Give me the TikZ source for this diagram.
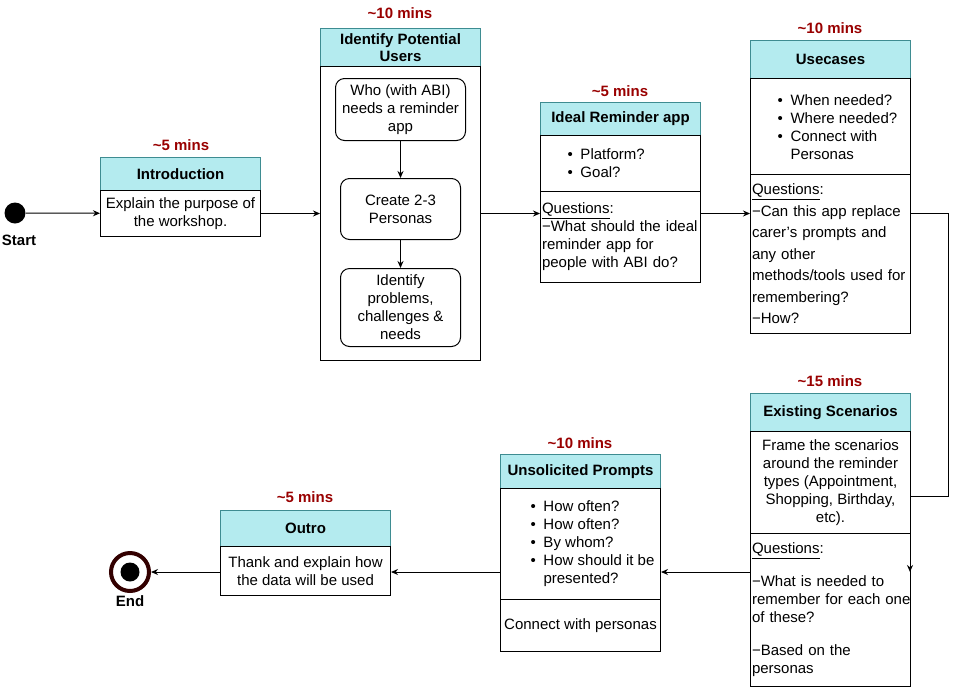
\documentclass[tikz,border=0pt]{standalone}
\usepackage{fontspec}
\setmainfont{Liberation Sans}
\usetikzlibrary{arrows.meta}
\definecolor{headfill}{HTML}{B4EBEF}
\definecolor{headline}{HTML}{3E8C91}
\definecolor{minsred}{HTML}{990000}
\definecolor{ringbrown}{HTML}{330000}
\newcommand{\itemdot}{\makebox[13pt][l]{\textbullet}}
\newcommand{\itemgap}{\hspace*{13pt}}
\begin{document}
\begin{tikzpicture}[x=1pt,y=-1pt,line width=1pt,
		font=\fontsize{15}{18}\selectfont,
		>={Stealth[length=7pt,width=6pt]},
		head/.style={draw=headline,fill=headfill,anchor=north west,align=center,inner sep=0pt,
			font=\fontsize{15}{17}\selectfont\bfseries},
		part/.style={draw,fill=white,anchor=north west,align=center,inner sep=0pt},
		qbox/.style={align=left,inner xsep=1.5pt,inner ysep=0pt,text width=157pt,minimum width=160pt},
		subbox/.style={draw,rounded corners=9pt,anchor=north west,align=center,inner sep=0pt},
		bullets/.style={anchor=west,align=left,inner sep=0pt},
		mins/.style={text=minsred,font=\fontsize{15}{18}\selectfont\bfseries}]
	\fill[white] (0,0) rectangle (960,694);
	\useasboundingbox (0,0) rectangle (960,694);
	% start
	\node[fill,circle,minimum size=21pt,inner sep=0pt] (start) at (15,213) {};
	\node[font=\fontsize{15}{18}\selectfont\bfseries] (startlbl) at (19,240) {Start};
	% introduction
	\node[mins] (m1) at (181,145) {\textasciitilde5 mins};
	\node[head,minimum width=160pt,minimum height=33pt] (introhead) at (100,157) {Introduction};
	\node[part,minimum width=160pt,minimum height=46pt] (introbody) at (100,190) {Explain the purpose of\\the workshop.};
	% identify potential users
	\node[mins] (m2) at (400,13) {\textasciitilde10 mins};
	\node[head,minimum width=160pt,minimum height=38pt] (idhead) at (320,28) {Identify Potential\\Users};
	\node[part,minimum width=160pt,minimum height=294pt] (idbody) at (320,66) {};
	\node[subbox,minimum width=130pt,minimum height=62pt] (who) at (335,78) {Who (with ABI)\\needs a reminder\\app};
	\node[subbox,minimum width=120pt,minimum height=61pt] (personas) at (340,178) {Create 2-3\\Personas};
	\node[subbox,minimum width=120pt,minimum height=78pt] (problems) at (340,268) {Identify\\problems,\\challenges \&\\needs};
	% ideal reminder app
	\node[mins] (m3) at (620,91) {\textasciitilde5 mins};
	\node[head,minimum width=160pt,minimum height=33pt] (idealhead) at (540,102) {Ideal Reminder app};
	\node[part,minimum width=160pt,minimum height=56pt] (idealbul) at (540,135) {};
	\node[bullets] (idealtxt) at (567,163) {\itemdot Platform?\\\itemdot Goal?};
	\node[part,qbox,minimum height=91pt] (idealq) at (540,191) {\underline{Questions}:\\−What should the ideal\\reminder app for\\people with ABI do?};
	% usecases
	\node[mins] (m4) at (830,28) {\textasciitilde10 mins};
	\node[head,minimum width=160pt,minimum height=38pt] (usehead) at (750,40) {Usecases};
	\node[part,minimum width=160pt,minimum height=96pt] (usebul) at (750,78) {};
	\node[bullets] (usetxt) at (777,127) {\itemdot When needed?\\\itemdot Where needed?\\\itemdot Connect with\\\itemgap Personas};
	\node[part,qbox,minimum height=159pt,font=\fontsize{15}{21.5}\selectfont] (useq) at (750,174) {\underline{Questions}:\\−Can this app replace\\carer’s prompts and\\any other\\methods/tools used for\\remembering?\\−How?};
	% existing scenarios
	\node[mins] (m5) at (830,381) {\textasciitilde15 mins};
	\node[head,minimum width=160pt,minimum height=38pt] (exhead) at (750,393) {Existing Scenarios};
	\node[part,minimum width=160pt,minimum height=102pt] (exbody) at (750,431) {Frame the scenarios\\around the reminder\\types (Appointment,\\Shopping, Birthday,\\etc).};
	\node[part,qbox,minimum height=153pt] (exq) at (750,533) {\underline{Questions}:\\[15pt]−What is needed to\\\mbox{remember for each one}\\of these?\\[15pt]−Based on the\\personas};
	% unsolicited prompts
	\node[mins] (m6) at (580,443) {\textasciitilde10 mins};
	\node[head,minimum width=160pt,minimum height=34pt] (unshead) at (500,454) {Unsolicited Prompts};
	\node[part,minimum width=160pt,minimum height=111pt] (unsbul) at (500,488) {};
	\node[bullets] (unstxt) at (530,543.5) {\itemdot How often?\\\itemdot How often?\\\itemdot By whom?\\\itemdot How should it be\\\itemgap presented?};
	\node[part,minimum width=160pt,minimum height=52pt] (unsconn) at (500,599) {Connect with personas};
	% outro
	\node[mins] (m7) at (305,497) {\textasciitilde5 mins};
	\node[head,minimum width=170pt,minimum height=36pt] (outhead) at (220,510) {Outro};
	\node[part,minimum width=170pt,minimum height=49pt] (outbody) at (220,546) {Thank and explain how\\the data will be used};
	% end
	\node[circle,draw=ringbrown,line width=4pt,minimum size=38pt,inner sep=0pt] (finish) at (130,572) {};
	\node[circle,fill,minimum size=19pt,inner sep=0pt] (finishdot) at (130,572) {};
	\node[font=\fontsize{15}{18}\selectfont\bfseries] (endlbl) at (130,601) {End};
	% connectors
	\coordinate (turn) at (948,496);
	\coordinate (into) at (910,572);
	\draw[->] (start) -- (introbody);
	\draw[->] (introbody) -- (introbody -| idbody.west);
	\draw[->] (who) -- (personas);
	\draw[->] (personas) -- (problems);
	\draw[->] (idbody.east) -- (idbody.east -| idealq.west);
	\draw[->] (idealq.east |- idbody.east) -- (idbody.east -| useq.west);
	\draw[->] (useq.east |- idbody.east) -| (turn) -| (into);
	\draw[->] (exq.west |- into) -- (into -| unsbul.east);
	\draw[->] (unsbul.west |- into) -- (into -| outbody.east);
	\draw[->] (outbody.west |- into) -- (finish);
\end{tikzpicture}
\end{document}
